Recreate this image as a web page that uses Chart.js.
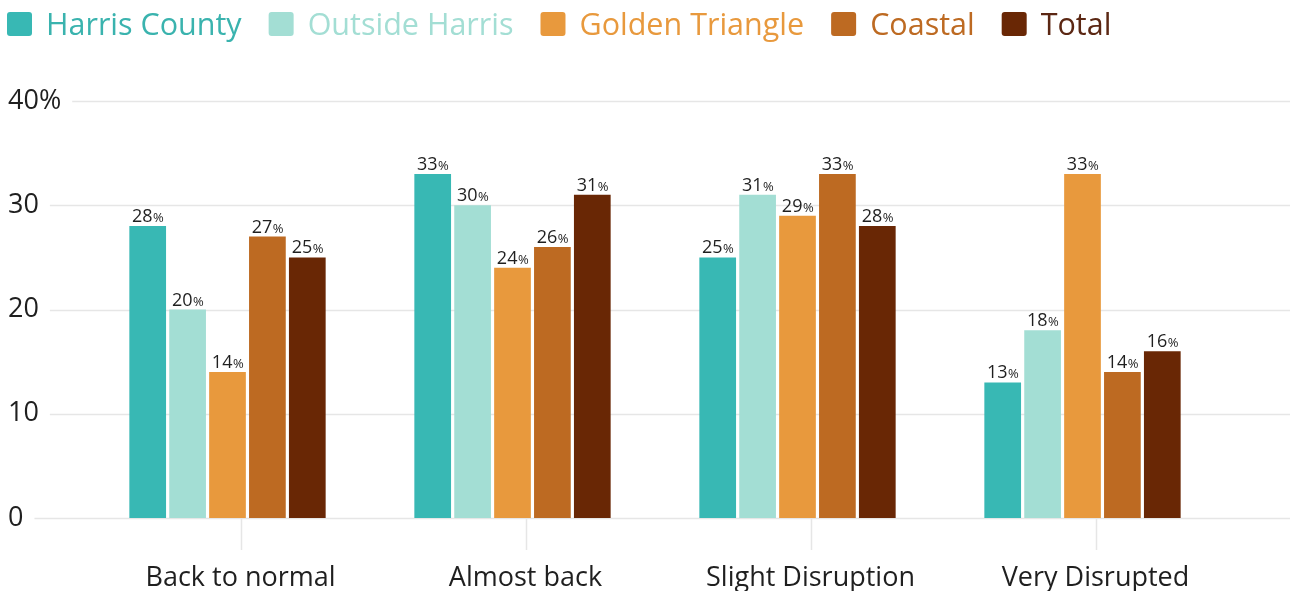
<!DOCTYPE html>
<html>
<head>
<meta charset="utf-8">
<script src="https://cdn.jsdelivr.net/npm/chart.js@4.4.1/dist/chart.umd.min.js"></script>
<style>
  html, body { margin: 0; padding: 0; background: #fff; }
  #wrap { width: 1297px; height: 595px; }
</style>
</head>
<body>
<div id="wrap"><canvas id="grafica"></canvas></div>
<script>
/* -----------------------------
   DATOS
----------------------------- */
const categorias = ["Back to normal", "Almost back", "Slight Disruption", "Very Disrupted"];
const series = ["Harris County", "Outside Harris", "Golden Triangle", "Coastal", "Total"];

const harrisCounty = [28, 33, 25, 13];
const outsideHarris = [20, 30, 31, 18];
const goldenTriangle = [14, 24, 29, 33];
const coastal = [27, 26, 33, 14];
const total = [25, 31, 28, 16];

const yTicks = [0, 10, 20, 30, 40];
const yEtiquetas = ["0", "10", "20", "30", "40%"];

const colores = ["#38b8b4", "#a3ded4", "#e8993d", "#bd6a22", "#692705"];
const coloresTexto = ["#3ab3ae", "#a3ded4", "#e8993d", "#bd6a22", "#5b2713"];

const valores = [harrisCounty, outsideHarris, goldenTriangle, coastal, total];

const FUENTE = "'Open Sans', Lato, sans-serif";

/* -----------------------------
   PLUGINS
----------------------------- */
// leyenda dibujada a mano (cuadro + texto del color de la serie)
const leyenda = {
    id: "leyenda",
    afterDraw(chart) {
        const { ctx } = chart;
        ctx.save();
        ctx.font = "30.5px " + FUENTE;
        ctx.textBaseline = "middle";
        ctx.textAlign = "left";
        let x = 7;
        const yc = 24;
        chart.data.datasets.forEach((ds, i) => {
            ctx.fillStyle = colores[i];
            ctx.beginPath();
            ctx.roundRect(x, yc - 12, 25, 24, 3);
            ctx.fill();
            ctx.fillStyle = coloresTexto[i];
            ctx.fillText(ds.label, x + 39, yc + 2);
            x += 39 + ctx.measureText(ds.label).width + 27;
        });
        ctx.restore();
    }
};

// lineas horizontales que empiezan despues de la etiqueta y pasan del area
const lineasGrid = {
    id: "lineasGrid",
    beforeDatasetsDraw(chart) {
        const { ctx, scales } = chart;
        const y = scales.y;
        const x = scales.x;
        ctx.save();
        ctx.font = "27px " + FUENTE;
        ctx.strokeStyle = "#e6e6e6";
        ctx.lineWidth = 1.5;
        yTicks.forEach((v, i) => {
            const ancho = ctx.measureText(yEtiquetas[i]).width;
            const py = Math.round(y.getPixelForValue(v)) + 0.5;
            ctx.beginPath();
            ctx.moveTo(8 + ancho + 11, py);
            ctx.lineTo(1290, py);
            ctx.stroke();
        });
        // marcas de categoria bajo el eje
        const y0 = y.getPixelForValue(0);
        categorias.forEach((c, i) => {
            const px = Math.round(x.getPixelForValue(i) + 13) + 0.5;
            ctx.beginPath();
            ctx.moveTo(px, y0);
            ctx.lineTo(px, y0 + 32);
            ctx.stroke();
        });
        ctx.restore();
    }
};

// etiquetas con el porcentaje encima de cada barra
const etiquetasBarras = {
    id: "etiquetasBarras",
    afterDatasetsDraw(chart) {
        const { ctx } = chart;
        ctx.save();
        ctx.fillStyle = "#1f1f1f";
        ctx.textBaseline = "alphabetic";
        ctx.textAlign = "left";
        chart.data.datasets.forEach((ds, i) => {
            const meta = chart.getDatasetMeta(i);
            meta.data.forEach((bar, j) => {
                const num = String(ds.data[j]);
                ctx.font = "18px " + FUENTE;
                const wNum = ctx.measureText(num).width;
                ctx.font = "13px " + FUENTE;
                const wPct = ctx.measureText("%").width;
                const x0 = bar.x - (wNum + wPct) / 2;
                const yb = bar.y - 4;
                ctx.font = "18px " + FUENTE;
                ctx.fillText(num, x0, yb);
                ctx.font = "13px " + FUENTE;
                ctx.fillText("%", x0 + wNum + 0.5, yb);
            });
        });
        ctx.restore();
    }
};

/* -----------------------------
   GRAFICA
----------------------------- */
const ctx = document.getElementById("grafica");

new Chart(ctx, {
    type: "bar",
    data: {
        labels: categorias,
        datasets: series.map((nombre, i) => ({
            label: nombre,
            data: valores[i],
            backgroundColor: colores[i],
            borderWidth: 0,
            categoryPercentage: 0.7,
            barPercentage: 0.92
        }))
    },
    options: {
        responsive: true,
        maintainAspectRatio: false,
        animation: false,
        layout: {
            padding: { left: 8, right: 72, top: 101, bottom: 4 }
        },
        plugins: {
            tooltip: { enabled: false },
            legend: { display: false }
        },
        scales: {
            x: {
                grid: { display: false },
                border: { display: false },
                afterFit(scale) {
                    scale.height = 73;
                },
                ticks: {
                    color: "#1f1f1f",
                    font: { family: FUENTE, size: 27 },
                    padding: 36,
                    labelOffset: 13,
                    maxRotation: 0
                }
            },
            y: {
                min: 0,
                max: 40,
                afterBuildTicks(scale) {
                    scale.ticks = yTicks.map(v => ({ value: v }));
                },
                afterFit(scale) {
                    scale.width = 77;
                },
                grid: { display: false },
                border: { display: false },
                ticks: {
                    crossAlign: "far",
                    color: "#1f1f1f",
                    font: { family: FUENTE, size: 27 },
                    callback: (v, i) => yEtiquetas[yTicks.indexOf(v)]
                }
            }
        }
    },
    plugins: [lineasGrid, etiquetasBarras, leyenda]
});
</script>
</body>
</html>
